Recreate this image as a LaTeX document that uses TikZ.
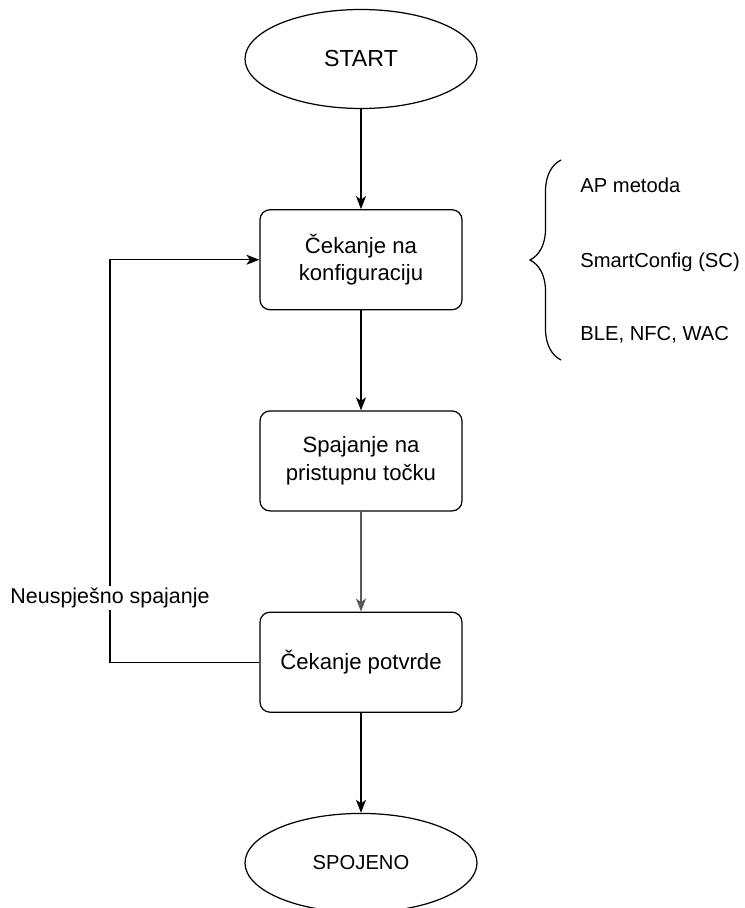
\documentclass[tikz,border=0pt]{standalone}
\usepackage{fontspec}
\setmainfont{Liberation Sans}
\usetikzlibrary{arrows.meta,positioning,shapes.geometric,decorations.pathreplacing}
\tikzset{
  terminal/.style={draw,ellipse,line width=0.7pt,minimum width=4.64cm,
    minimum height=1.98cm,inner sep=0pt,font=\fontsize{12}{15}\selectfont},
  process/.style={draw,rounded corners=0.2cm,line width=0.7pt,minimum width=4.04cm,
    minimum height=2cm,align=center,font=\fontsize{12.6}{15.6}\selectfont},
  note/.style={anchor=west,inner sep=0pt,font=\fontsize{11.5}{14}\selectfont},
  arrow/.style={-{Stealth[length=0.26cm,width=0.2cm,inset=0.07cm]},line width=0.7pt}
}
\begin{document}
\begin{tikzpicture}[node distance=2cm]
  \useasboundingbox (0,0) rectangle (14.9,-18.16);
  % main flow
  \node[terminal,font=\fontsize{13.2}{15}\selectfont] (start) at (7.22,-1.18) {START};
  \node[process,below=of start] (konfig) {Čekanje na\\konfiguraciju};
  \node[process,below=of konfig] (spajanje) {Spajanje na\\pristupnu točku};
  \node[process,below=of spajanje] (potvrda) {Čekanje potvrde};
  \node[terminal,font=\fontsize{11.5}{14}\selectfont,below=of potvrda] (spojeno) {SPOJENO};

  \draw[arrow] (start) -- (konfig);
  \draw[arrow] (konfig) -- (spajanje);
  \draw[arrow,black!65] (spajanje) -- (potvrda);
  \draw[arrow] (potvrda) -- (spojeno);

  % retry loop on the left
  \coordinate (loopx) at (2.2,0);
  \draw[arrow] (potvrda.west) -- (loopx |- potvrda.west) |- (konfig.west)
    node[pos=0.08,fill=white,inner sep=1pt,font=\fontsize{12.2}{14}\selectfont] (neusp) {Neuspješno spajanje};

  % configuration methods
  \draw[line width=0.7pt,decorate,decoration={brace,amplitude=0.62cm}] (11.22,-7.2) -- (11.22,-3.2);
  \node[note] (ap) at (11.6,-3.7) {AP metoda};
  \node[note] (sc) at (11.6,-5.24) {SmartConfig (SC)};
  \node[note] (ble) at (11.6,-6.7) {BLE, NFC, WAC};
\end{tikzpicture}
\end{document}
